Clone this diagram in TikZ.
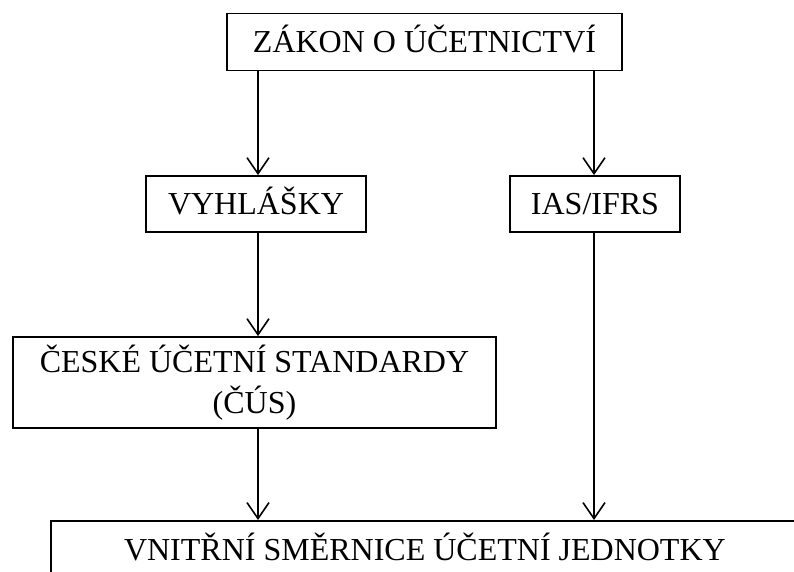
\documentclass[tikz,border=0pt]{standalone}
\usepackage{fontspec}
\setmainfont{Liberation Serif}
\usetikzlibrary{arrows.meta}
\tikzset{
  box/.style={draw, line width=1.8bp, inner sep=0pt, align=center,
    text height=21bp, text depth=0bp,
    font=\fontsize{32bp}{41.5bp}\selectfont},
  arr/.style={line width=1.6bp, -{Straight Barb[length=16bp,width=22bp]}}
}
\begin{document}
\begin{tikzpicture}[x=1bp,y=-1bp]
\useasboundingbox (0,0) rectangle (794,572);
\clip (0,0) rectangle (794,572);
\node[box, minimum width=395bp, minimum height=57bp] (top) at (424.5,42) {ZÁKON O ÚČETNICTVÍ};
\node[box, minimum width=220bp, minimum height=56bp] (vyh) at (256,204) {VYHLÁŠKY};
\node[box, minimum width=170bp, minimum height=56bp] (ias) at (595,204) {IAS/IFRS};
\node[box, text height=62.5bp, text depth=-5.5bp, minimum width=483bp, minimum height=91bp] (cus) at (254.5,382.5) {ČESKÉ ÚČETNÍ STANDARDY\\(ČÚS)};
\node[box, anchor=north west, minimum width=748bp, minimum height=58bp] (bot) at (50,520) {VNITŘNÍ SMĚRNICE ÚČETNÍ JEDNOTKY};
\coordinate (xl) at (258,0);
\coordinate (xr) at (594,0);
\draw[arr] (top.south -| xl) -- (vyh.north -| xl);
\draw[arr] (top.south -| xr) -- (ias.north -| xr);
\draw[arr] (vyh.south -| xl) -- (cus.north -| xl);
\draw[arr] (cus.south -| xl) -- (bot.north -| xl);
\draw[arr] (ias.south -| xr) -- (bot.north -| xr);
\end{tikzpicture}
\end{document}
